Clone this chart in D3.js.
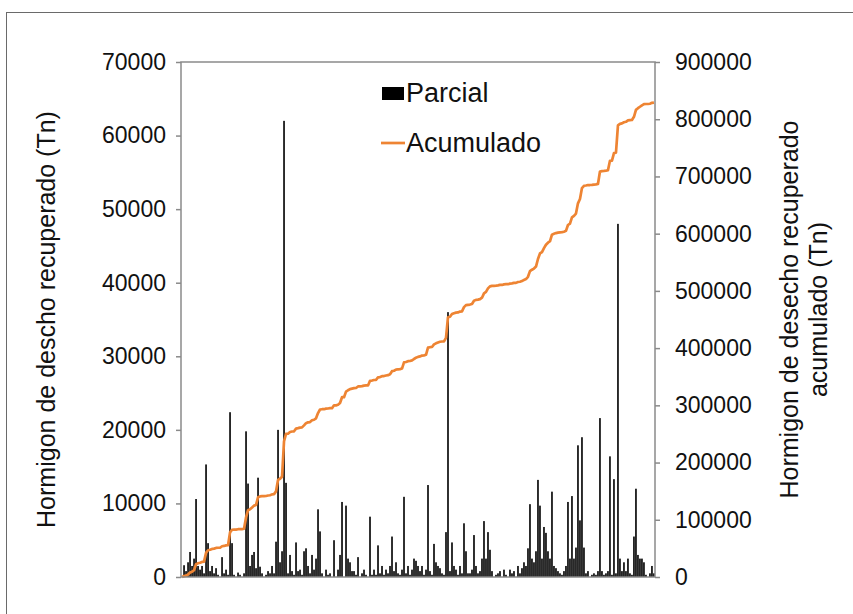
<!DOCTYPE html>
<html>
<head>
<meta charset="utf-8">
<script src="https://cdn.jsdelivr.net/npm/d3@7"></script>
<style>
body { margin: 0; background: #fff; }
text { font-family: "Liberation Sans", Arial, sans-serif; fill: #111; }
</style>
</head>
<body>
<svg id="chart"></svg>
<script>
//canvas info
var width = 853;
var height = 614;
var margin = {left: 181, right: 198, top: 62, bottom: 37};

//Parcial values, one per item (Tn) left to right
var parcial = [
  0, 1600, 800, 2000, 3400, 1500, 2500, 10600, 1500, 1000,
  1500, 500, 15300, 4600, 800, 1500, 500, 1200, 300, 0,
  2700, 500, 1000, 300, 22400, 4600, 300, 0, 600, 300,
  0, 500, 19800, 12700, 1500, 3000, 3400, 1200, 13500, 1400,
  500, 0, 300, 800, 500, 1500, 500, 4800, 20000, 2000,
  3500, 62000, 12800, 500, 3000, 800, 300, 4700, 800, 1000,
  300, 3500, 3900, 1500, 500, 3000, 1000, 2500, 9200, 6200,
  500, 0, 1000, 300, 500, 0, 5000, 0, 1000, 3000,
  10200, 0, 9700, 2500, 2000, 800, 800, 300, 2700, 0,
  500, 1000, 300, 0, 8200, 300, 1000, 300, 4300, 500,
  1500, 300, 1000, 500, 1500, 5500, 800, 2000, 500, 300,
  1000, 10900, 500, 1500, 300, 1000, 2500, 2200, 1500, 800,
  1500, 300, 1000, 12500, 800, 300, 4500, 2000, 1500, 1200,
  500, 300, 6100, 36000, 800, 4700, 1500, 1000, 300, 1500,
  500, 7300, 3500, 500, 500, 1000, 5700, 1500, 500, 800,
  2500, 7600, 2500, 6100, 3700, 800, 0, 300, 500, 800,
  0, 1000, 300, 0, 1000, 500, 800, 0, 1500, 500,
  1200, 2000, 1500, 3900, 9900, 2500, 2000, 3500, 13200, 9700,
  2500, 6800, 6000, 3500, 2500, 11600, 1500, 1200, 800, 500,
  300, 800, 1500, 10200, 2500, 11000, 2500, 4000, 17900, 7700,
  19000, 4000, 500, 800, 0, 300, 500, 300, 800, 21600,
  800, 300, 500, 800, 16400, 300, 13300, 500, 48000, 2500,
  800, 2000, 800, 2500, 500, 300, 5500, 12000, 3000, 2500,
  2500, 2000, 300, 0, 500, 1500, 500
];

//Acumulado is the running total of Parcial
var acumulado = d3.cumsum(parcial);

var leftTicks = [0, 10000, 20000, 30000, 40000, 50000, 60000, 70000];
var rightTicks = [0, 100000, 200000, 300000, 400000, 500000, 600000, 700000, 800000, 900000];

var leftTitle = "Hormigon de descho recuperado (Tn)";
var rightTitle = ["Hormigon de desecho recuperado", "acumulado (Tn)"];
var legendNames = ["Parcial", "Acumulado"];

var barColor = "#0d0d0d";
var lineColor = "#ee8433";
var axisColor = "#8a8a8a";

var svg = d3.select("#chart")
  .attr("width", width)
  .attr("height", height);

// outer frame, cut by the page edge
svg.append("rect")
  .attr("x", 6.5).attr("y", 12.5)
  .attr("width", 1000).attr("height", 1000)
  .attr("fill", "none")
  .attr("stroke", "#6a6a6a")
  .attr("stroke-width", 1);

var x0 = margin.left, x1 = width - margin.right;
var y0 = height - margin.bottom, y1 = margin.top;

var x = d3.scaleBand()
  .domain(d3.range(parcial.length))
  .range([x0, x1])
  .paddingInner(0.15)
  .paddingOuter(0.1);

var yl = d3.scaleLinear().domain([0, 70000]).range([y0, y1]);
var yr = d3.scaleLinear().domain([0, 900000]).range([y0, y1]);

// bars
svg.append("g")
  .selectAll("rect")
  .data(parcial)
  .enter().append("rect")
  .attr("x", function(d, i) { return x(i); })
  .attr("width", x.bandwidth())
  .attr("y", function(d) { return yl(d); })
  .attr("height", function(d) { return y0 - yl(d); })
  .attr("fill", barColor);

// cumulative line
var line = d3.line()
  .x(function(d, i) { return x(i) + x.bandwidth() / 2; })
  .y(function(d) { return yr(d); });

svg.append("path")
  .datum(acumulado)
  .attr("d", line)
  .attr("fill", "none")
  .attr("stroke", lineColor)
  .attr("stroke-width", 2.7)
  .attr("stroke-linejoin", "round");

// plot frame
svg.append("rect")
  .attr("x", x0).attr("y", y1)
  .attr("width", x1 - x0).attr("height", y0 - y1)
  .attr("fill", "none")
  .attr("stroke", axisColor)
  .attr("stroke-width", 1.5);

// axes
var axL = svg.append("g")
  .attr("transform", "translate(" + x0 + ",0)")
  .call(d3.axisLeft(yl).tickValues(leftTicks).tickSize(5).tickPadding(10).tickFormat(d3.format("d")));
var axR = svg.append("g")
  .attr("transform", "translate(" + x1 + ",0)")
  .call(d3.axisRight(yr).tickValues(rightTicks).tickSize(5).tickPadding(15).tickFormat(d3.format("d")));

[axL, axR].forEach(function(ax) {
  ax.select(".domain").remove();
  ax.selectAll(".tick line").attr("stroke", axisColor).attr("stroke-width", 1.5);
  ax.selectAll(".tick text")
    .attr("fill", "#111")
    .style("font-family", "'Liberation Sans', Arial, sans-serif")
    .style("font-size", "23px");
});

// axis titles
svg.append("text")
  .attr("transform", "translate(55," + ((y0 + y1) / 2) + ") rotate(-90)")
  .attr("text-anchor", "middle")
  .style("font-size", "25px")
  .text(leftTitle);

var rt = svg.append("text")
  .attr("transform", "translate(798," + ((y0 + y1) / 2 - 10) + ") rotate(-90)")
  .attr("text-anchor", "middle")
  .style("font-size", "25px");
rightTitle.forEach(function(t, i) {
  rt.append("tspan").attr("x", 0).attr("dy", i == 0 ? 0 : 29).text(t);
});

// legend
var lg = svg.append("g");
lg.append("rect")
  .attr("x", 382).attr("y", 87)
  .attr("width", 22).attr("height", 13)
  .attr("fill", "#000");
lg.append("text")
  .attr("x", 406).attr("y", 102)
  .style("font-size", "27px")
  .text(legendNames[0]);
lg.append("line")
  .attr("x1", 381).attr("x2", 405)
  .attr("y1", 143).attr("y2", 143)
  .attr("stroke", lineColor)
  .attr("stroke-width", 2.7);
lg.append("text")
  .attr("x", 406).attr("y", 152)
  .style("font-size", "27px")
  .text(legendNames[1]);
</script>
</body>
</html>
